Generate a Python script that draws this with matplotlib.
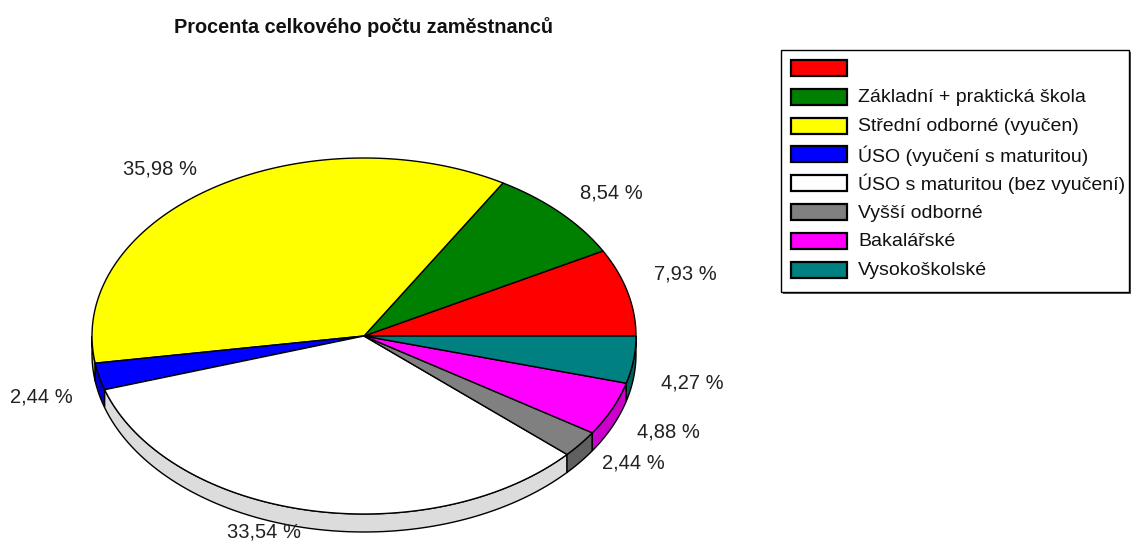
import numpy as np
import matplotlib.pyplot as plt
from matplotlib.patches import Polygon, Rectangle

plt.rcParams['font.family'] = ['Liberation Sans', 'DejaVu Sans']

title = 'Procenta celkového počtu zaměstnanců'
categories = ['', 'Základní + praktická škola', 'Střední odborné (vyučen)',
              'ÚSO (vyučení s maturitou)', 'ÚSO s maturitou (bez vyučení)',
              'Vyšší odborné', 'Bakalářské', 'Vysokoškolské']
values = [7.93, 8.54, 35.98, 2.44, 33.54, 2.44, 4.88, 4.27]
labels = ['7,93 %', '8,54 %', '35,98 %', '2,44 %', '33,54 %', '2,44 %', '4,88 %', '4,27 %']

top_colors = ['#ff0000', '#008000', '#ffff00', '#0000ff', '#ffffff', '#808080', '#ff00ff', '#008080']
side_colors = ['#cc0000', '#006000', '#cccc00', '#0000cc', '#dcdcdc', '#606060', '#cc00cc', '#006060']
# small vertical nudges for the percentage labels (pixels)
label_nudge = [-14, -7, -5, -2, -13, -10, -2, 3]

# pie geometry in pixels
cx, cy = 364, 336
rx, ry = 272, 178
depth = 18

fig = plt.figure(figsize=(11.36, 5.52), dpi=100)
ax = fig.add_axes([0, 0, 1, 1])
ax.set_xlim(0, 1136)
ax.set_ylim(552, 0)
ax.axis('off')


def ell(theta, dy=0.0):
    return cx + rx * np.cos(theta), cy - ry * np.sin(theta) + dy


total = sum(values)
bounds = np.concatenate([[0], np.cumsum(values) / total * 360])

# side walls (front half only)
for i in range(len(values)):
    a0, a1 = bounds[i], bounds[i + 1]
    lo, hi = max(a0, 180), min(a1, 360)
    if hi <= lo:
        continue
    t = np.radians(np.linspace(lo, hi, 80))
    x, y = ell(t)
    xb, yb = ell(t[::-1], depth)
    pts = np.column_stack([np.concatenate([x, xb]), np.concatenate([y, yb])])
    ax.add_patch(Polygon(pts, closed=True, facecolor=side_colors[i],
                         edgecolor='black', linewidth=1.0, zorder=1))

# top faces
for i in range(len(values)):
    t = np.radians(np.linspace(bounds[i], bounds[i + 1], 200))
    x, y = ell(t)
    pts = np.column_stack([np.concatenate([[cx], x]), np.concatenate([[cy], y])])
    ax.add_patch(Polygon(pts, closed=True, facecolor=top_colors[i],
                         edgecolor='black', linewidth=1.0, zorder=2))

# percentage labels
for i, lab in enumerate(labels):
    mid = np.radians((bounds[i] + bounds[i + 1]) / 2)
    lx = cx + 1.1 * rx * np.cos(mid)
    ly = cy - 1.1 * ry * np.sin(mid) + label_nudge[i]
    if np.sin(mid) < 0:
        ly += depth
    ha = 'left' if np.cos(mid) > 0 else 'right'
    ax.text(lx, ly, lab, ha=ha, va='center', fontsize=14.5, color='#222222', zorder=3)

ax.text(363, 27, title, ha='center', va='center', fontsize=14.3, fontweight='bold', color='#111111')

# legend
lx0, ly0, lw, lh = 781, 50, 348, 242
ax.add_patch(Rectangle((lx0 + 2, ly0 + 2), lw, lh, facecolor='#555555', edgecolor='none', zorder=4))
ax.add_patch(Rectangle((lx0, ly0), lw, lh, facecolor='white', edgecolor='black', linewidth=1.0, zorder=5))
row_h = 28.8
for i, name in enumerate(categories):
    yc = ly0 + 18 + i * row_h
    ax.add_patch(Rectangle((791, yc - 8), 56, 16, facecolor=top_colors[i],
                           edgecolor='black', linewidth=1.6, zorder=6))
    ax.text(858, yc + 1, name, ha='left', va='center', fontsize=14, color='#111111', zorder=6)

fig.savefig('out.png', dpi=100)
